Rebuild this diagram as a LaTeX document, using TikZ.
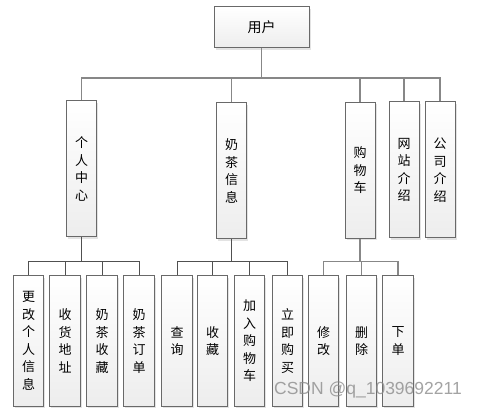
\documentclass[tikz,border=0pt]{standalone}
\usepackage{fontspec}
\newfontfamily\cjk{Noto Sans CJK SC}
\setmainfont{Liberation Sans}
\usetikzlibrary{shadows, positioning}
\definecolor{boxline}{RGB}{105, 105, 105}
\definecolor{linkgray}{RGB}{135, 135, 135}
\definecolor{linkdark}{RGB}{80, 80, 80}

\tikzset{
  modbox/.style={draw=boxline, line width=1pt, top color=white, bottom color=black!7,
    drop shadow={shadow xshift=1.6pt, shadow yshift=-1.6pt, fill=black!22},
    align=center, inner sep=0pt, font=\cjk\fontsize{13}{17.5}\selectfont},
  topbox/.style={modbox, minimum width=30pt, minimum height=136pt},
  leafbox/.style={modbox, minimum width=30.5pt, minimum height=130pt},
  link/.style={draw=linkgray, line width=1.3pt},
  sublink/.style={draw=linkdark, line width=0.9pt}
}

\begin{document}
\begin{tikzpicture}[x=1pt, y=-1pt]
  \useasboundingbox (0,0) rectangle (480,409);

  \node[modbox, minimum width=95pt, minimum height=41pt, font=\cjk\fontsize{14}{17}\selectfont] (user) at (261.5,27.5) {用户};

  \node[topbox] (center) at (81.5,169) {个\\人\\中\\心};
  \node[topbox] (tea)    at (231.5,171) {奶\\茶\\信\\息};
  \node[topbox] (cart)   at (360,170.5) {购\\物\\车};
  \node[topbox] (site)   at (404,170) {网\\站\\介\\绍};
  \node[topbox] (firm)   at (440,170) {公\\司\\介\\绍};

  \node[leafbox] (edit)   at (28.5,341)  {更\\改\\个\\人\\信\\息};
  \node[leafbox] (addr)   at (65,341)    {收\\货\\地\\址};
  \node[leafbox] (fav)    at (102,341)   {奶\\茶\\收\\藏};
  \node[leafbox] (order)  at (139,341)   {奶\\茶\\订\\单};
  \node[leafbox] (query)  at (177,341)   {查\\询};
  \node[leafbox] (keep)   at (212.5,341) {收\\藏};
  \node[leafbox] (add)    at (249.5,341) {加\\入\\购\\物\\车};
  \node[leafbox] (buy)    at (287.5,341) {立\\即\\购\\买};
  \node[leafbox] (change) at (323.5,341) {修\\改};
  \node[leafbox] (remove) at (361.5,341) {删\\除};
  \node[leafbox] (place)  at (398,341)   {下\\单};

  \coordinate (busA) at (0,78);
  \coordinate (busB) at (0,261.5);

  \foreach \c in {center, tea, cart, site, firm}
    \draw[link] (user.south) -- (user.south |- busA) -| (\c.north);
  \foreach \c in {edit, addr, fav, order}
    \draw[sublink] (center.south) -- (center.south |- busB) -| (\c.north);
  \foreach \c in {query, keep, add, buy}
    \draw[sublink] (tea.south) -- (tea.south |- busB) -| (\c.north);
  \foreach \c in {change, remove, place}
    \draw[link] (cart.south) -- (cart.south |- busB) -| (\c.north);

  \node[text=black!45, opacity=0.8, font=\fontsize{17.5}{20}\selectfont] (mark) at (368,390) {CSDN @q\_1039692211};
\end{tikzpicture}
\end{document}
